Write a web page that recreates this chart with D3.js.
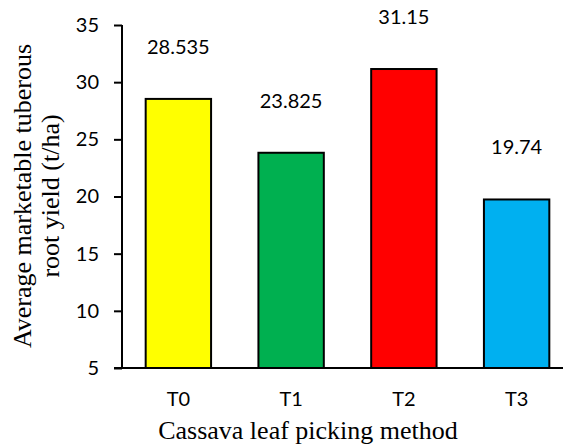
<!DOCTYPE html>
<html>
<head>
<meta charset="utf-8">
<script src="https://cdn.jsdelivr.net/npm/d3@7"></script>
<style>
  body { margin: 0; background: #fff; }
  .tick text { font-family: Lato, "Open Sans", sans-serif; }
</style>
</head>
<body>
<svg id="plot"></svg>
<script>
// chart data
const methods = ["T0", "T1", "T2", "T3"];
const yieldValues = [28.535, 23.825, 31.15, 19.74];
const barColors = ["#FFFF00", "#00B050", "#FF0000", "#00B0F0"];
const yTicks = [5, 10, 15, 20, 25, 30, 35];

const svg = d3.select("#plot")
    .attr("width", 563)
    .attr("height", 448);

const margin = { top: 25, left: 122, bottom: 80 };
const plotBottom = 448 - margin.bottom;

const x = d3.scaleBand()
    .domain(methods)
    .range([margin.left, 573])
    .paddingInner(0.42)
    .paddingOuter(0.21);

const y = d3.scaleLinear()
    .domain([5, 35])
    .range([plotBottom, margin.top]);

// bars
svg.selectAll(".bar")
    .data(methods)
    .enter().append("rect")
    .attr("class", "bar")
    .attr("x", d => x(d))
    .attr("y", (d, i) => y(yieldValues[i]))
    .attr("width", x.bandwidth())
    .attr("height", (d, i) => y(5) - y(yieldValues[i]))
    .style("fill", (d, i) => barColors[i])
    .style("stroke", "#000")
    .style("stroke-width", 2);

// value labels above bars
svg.selectAll(".val")
    .data(methods)
    .enter().append("text")
    .attr("class", "val")
    .attr("x", d => x(d) + x.bandwidth() / 2)
    .attr("y", (d, i) => y(yieldValues[i]) - 45)
    .attr("text-anchor", "middle")
    .style("font-family", "Lato, 'Open Sans', sans-serif")
    .style("font-size", "20px")
    .text((d, i) => String(yieldValues[i]));

// y axis
const yAxis = svg.append("g")
    .attr("transform", `translate(${margin.left},0)`)
    .call(d3.axisLeft(y).tickValues(yTicks).tickSize(8).tickPadding(15));
yAxis.select(".domain").attr("d", `M0,${y(35)}V${y(5)}`).style("stroke-width", 2);
yAxis.selectAll(".tick line").style("stroke-width", 2);
yAxis.selectAll(".tick text").style("font-size", "20px");

// x axis (line only, labels under bars)
const xAxis = svg.append("g")
    .attr("transform", `translate(0,${plotBottom})`)
    .call(d3.axisBottom(x).tickSize(0).tickPadding(24));
xAxis.select(".domain").attr("d", `M${margin.left - 8},0H563`).style("stroke-width", 2);
xAxis.selectAll(".tick text").style("font-size", "20px");

// axis titles
svg.append("text")
    .attr("x", 308)
    .attr("y", 439)
    .attr("text-anchor", "middle")
    .style("font-family", "'Liberation Serif', 'Times New Roman', serif")
    .style("font-size", "26px")
    .text("Cassava leaf picking method");

const yTitle = svg.append("text")
    .attr("transform", "translate(0,196) rotate(-90)")
    .attr("text-anchor", "middle")
    .style("font-family", "'Liberation Serif', 'Times New Roman', serif")
    .style("font-size", "26px");
yTitle.append("tspan").attr("x", 0).attr("y", 31).text("Average marketable tuberous");
yTitle.append("tspan").attr("x", 0).attr("y", 59).text("root yield (t/ha)");
</script>
</body>
</html>
